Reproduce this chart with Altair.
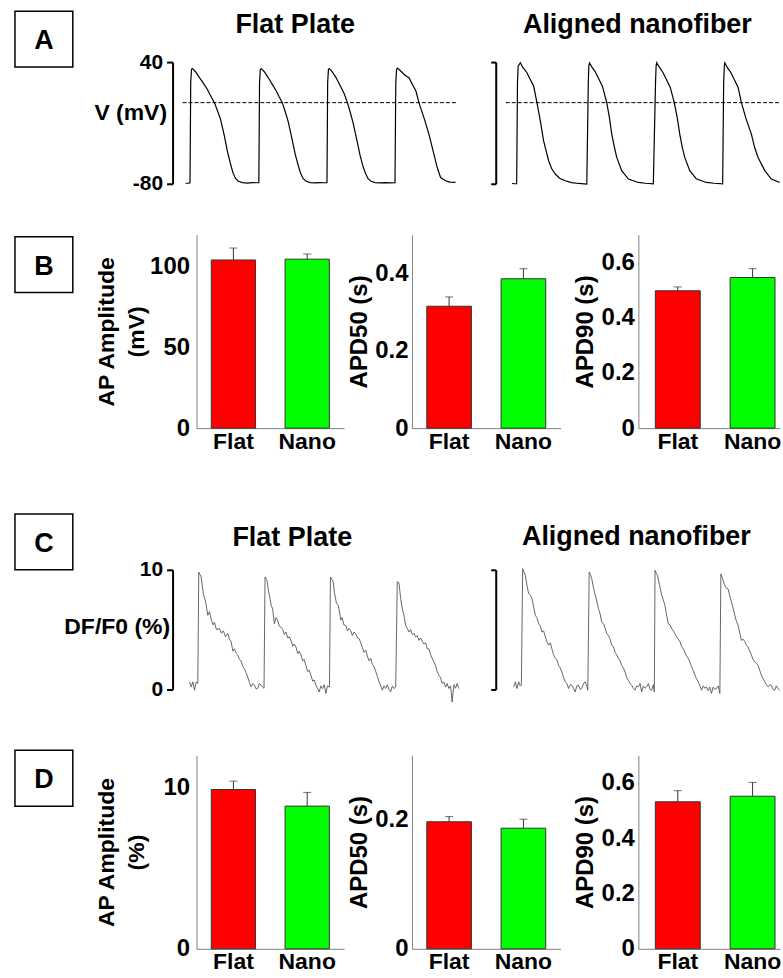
import altair as alt
import pandas as pd

FONT = "Liberation Sans"

# ---------------- data ----------------
GROUPS = ["Flat", "Nano"]
BAR_COLORS = ["#ff0000", "#00ff00"]

# Panel A: action potentials (time in ms, membrane potential in mV)
AP_FLAT = [
    (130, -79.5), (160, -79.5), (175, -79), (182, 20), (190, 33), (200, 33.5), (230, 30.5), (270, 24.6),
    (310, 19), (350, 13), (380, 7), (420, 0), (450, -8), (480, -16), (520, -33), (550, -48), (580, -60),
    (605, -69), (630, -74.5), (660, -77.5), (700, -78.8), (750, -79.3), (800, -78.8), (840, -79), (865, -79),
    (872, 20), (880, 33), (890, 33.5), (920, 30.5), (960, 24.5), (1000, 18), (1040, 11.5), (1070, 5.5),
    (1100, 0), (1130, -9), (1160, -19), (1200, -37), (1230, -51), (1260, -62), (1285, -70), (1310, -75),
    (1340, -77.5), (1380, -78.8), (1430, -79.2), (1480, -78.8), (1520, -79), (1548, -79),
    (1555, 20), (1563, 33), (1573, 33.5), (1600, 30.5), (1640, 24.5), (1680, 17), (1720, 9), (1753, 0),
    (1780, -9), (1810, -20), (1850, -38), (1880, -52), (1910, -63), (1935, -70), (1960, -75), (1990, -77.5),
    (2030, -78.8), (2080, -79.2), (2130, -78.8), (2180, -79.2), (2230, -79),
    (2238, 20), (2246, 33), (2256, 34), (2290, 31), (2330, 27), (2370, 24.6), (2410, 17), (2440, 11.5),
    (2470, 0), (2520, -14.8), (2570, -31), (2620, -50.8), (2653, -64), (2687, -73.8), (2737, -77),
    (2780, -78.3), (2837, -78.7),
]
AP_ALIGNED = [
    (163, -79.7), (190, -80), (210, -80),
    (218, 20), (225, 36), (247, 39.3), (270, 35), (313, 29.5), (340, 24), (380, 16.4), (413, 0), (447, -18),
    (480, -37.7), (530, -57.3), (560, -65), (597, -70.4), (640, -74.5), (697, -77), (760, -78.8),
    (830, -79.7), (913, -80.3),
    (928, 20), (933, 36), (940, 39.3), (965, 35), (1000, 30), (1030, 24), (1070, 16), (1113, 0),
    (1140, -15), (1163, -31), (1190, -44), (1213, -54), (1263, -67), (1330, -75.3), (1430, -78.7),
    (1500, -79.5), (1580, -80),
    (1602, 20), (1608, 36), (1613, 39.3), (1640, 35), (1675, 30), (1710, 23), (1750, 15), (1790, 0),
    (1820, -15), (1845, -31), (1870, -44), (1895, -54), (1945, -67), (2010, -75), (2110, -78.7),
    (2190, -79.5), (2275, -80),
    (2285, 20), (2292, 36), (2297, 39.3), (2320, 35), (2355, 30), (2390, 23), (2430, 15), (2463, 0),
    (2510, -16), (2563, -31), (2595, -44), (2630, -54), (2697, -67), (2763, -75.3), (2847, -78.7),
]
AP_ZERO_FLAT = (100, 2840)
AP_ZERO_ALIGNED = (100, 2850)

# Panel C: calcium transients (time in ms, DF/F0 in %)
CA_FLAT = [
    (170, 0.64), (187, 0.22), (203, 0.64), (220, -0.06), (237, 0.64), (253, 0.5), (263, 9.8), (287, 9.4),
    (310, 7.9), (330, 7.4), (353, 6.2), (370, 6.5), (387, 5.9), (405, 5.4), (420, 5.6), (440, 5.0),
    (470, 5.1), (490, 4.7), (510, 4.9), (530, 4.4), (553, 4.7), (570, 4.2), (587, 4.0), (605, 3.2),
    (620, 3.4), (640, 3.0), (653, 2.9), (670, 2.5), (687, 2.4), (705, 1.9), (720, 1.75), (737, 1.4),
    (753, 1.05), (770, 0.6), (787, 0.22), (805, 0.5), (820, 0.36), (837, 0.05), (853, 0.08), (870, 0.5),
    (887, 0.36), (903, 0.2), (917, 0.1),
    (927, 9.4), (947, 9.1), (960, 8.3), (977, 7.6), (990, 7.0), (1003, 6.75), (1020, 5.5), (1037, 6.0),
    (1053, 5.8), (1070, 5.3), (1087, 5.2), (1105, 5.0), (1120, 4.6), (1137, 4.8), (1155, 4.3), (1170, 4.4),
    (1187, 4.1), (1205, 3.6), (1220, 3.8), (1237, 3.55), (1255, 3.0), (1270, 3.2), (1287, 2.9),
    (1305, 2.4), (1320, 2.5), (1337, 2.0), (1355, 1.5), (1370, 1.6), (1387, 1.2), (1405, 0.7), (1420, 0.8),
    (1437, 0.36), (1453, 0.1), (1470, -0.2), (1487, 0.3), (1503, 0.08), (1520, 0.4), (1537, -0.33),
    (1553, 0.3), (1573, 0.2),
    (1583, 9.4), (1610, 9.0), (1625, 8.0), (1643, 7.2), (1663, 7.0), (1687, 5.8), (1700, 6.0), (1717, 5.4),
    (1737, 5.35), (1753, 4.9), (1770, 5.1), (1787, 4.9), (1803, 4.5), (1820, 4.8), (1837, 4.65),
    (1853, 4.3), (1870, 4.25), (1887, 3.9), (1903, 3.5), (1920, 3.1), (1937, 3.3), (1953, 2.8), (1970, 2.4),
    (1987, 2.6), (2003, 2.1), (2020, 1.9), (2037, 1.5), (2053, 1.1), (2070, 0.64), (2087, 0.3),
    (2103, -0.06), (2120, 0.3), (2137, 0.08), (2153, 0.4), (2170, 0.0), (2187, -0.2), (2203, 0.3),
    (2220, 0.08), (2237, 0.2),
    (2253, 9.0), (2270, 8.9), (2287, 7.6), (2303, 6.75), (2320, 6.2), (2337, 5.35), (2353, 5.1), (2370, 4.8),
    (2387, 5.0), (2403, 4.6), (2420, 4.7), (2437, 4.4), (2453, 4.5), (2470, 4.1), (2487, 4.3), (2503, 4.0),
    (2520, 3.8), (2537, 3.9), (2553, 3.4), (2570, 3.4), (2587, 2.9), (2603, 2.6), (2620, 2.3), (2637, 2.0),
    (2653, 1.5), (2670, 1.2), (2687, 1.0), (2703, 0.5), (2720, 0.64), (2737, 0.2), (2753, 0.5),
    (2770, 0.08), (2787, 0.3), (2803, -1.05), (2820, 0.4), (2837, 0.1), (2853, 0.5), (2870, 0.08),
]
CA_ALIGNED = [
    (180, 0.22), (197, 0.64), (213, 0.08), (230, 0.64), (245, 0.3), (257, 0.36),
    (270, 10.1), (283, 9.8), (297, 9.5), (313, 8.7), (330, 8.0), (347, 7.9), (363, 7.6), (380, 6.9),
    (397, 6.2), (413, 6.0), (430, 5.5), (447, 5.3), (463, 4.8), (480, 4.9), (497, 4.4), (513, 4.0),
    (530, 3.7), (547, 3.9), (563, 3.4), (580, 2.9), (597, 2.6), (613, 2.5), (630, 2.0), (647, 1.8),
    (663, 1.45), (680, 1.0), (697, 0.64), (713, 0.5), (730, 0.08), (747, 0.4), (763, 0.36), (780, 0.1),
    (797, -0.2), (813, 0.3), (830, 0.36), (847, 0.0), (863, 0.1), (880, 0.5), (897, 0.64), (913, 0.3),
    (923, -0.06),
    (937, 9.8), (950, 9.6), (963, 9.25), (980, 8.5), (997, 7.9), (1013, 7.4), (1030, 6.75), (1047, 6.3),
    (1063, 5.6), (1080, 5.5), (1097, 5.1), (1113, 4.7), (1130, 4.5), (1147, 4.2), (1163, 3.7), (1180, 3.6),
    (1197, 3.1), (1213, 2.9), (1230, 2.6), (1247, 2.4), (1263, 2.0), (1280, 1.8), (1297, 1.45), (1313, 1.0),
    (1330, 0.75), (1347, 0.5), (1363, 0.36), (1380, 0.1), (1397, -0.06), (1413, 0.3), (1430, 0.22),
    (1447, 0.5), (1463, -0.2), (1480, 0.3), (1497, 0.1), (1513, 0.22), (1530, 0.5), (1547, 0.0),
    (1563, -0.06), (1580, 0.4), (1590, -0.2),
    (1597, 9.95), (1610, 9.7), (1623, 9.5), (1640, 8.8), (1663, 7.9), (1680, 7.5), (1697, 7.0), (1713, 6.2),
    (1730, 5.5), (1747, 5.4), (1763, 5.1), (1780, 4.9), (1797, 4.65), (1813, 4.4), (1830, 4.2), (1847, 4.0),
    (1863, 3.6), (1880, 3.4), (1897, 3.1), (1913, 2.8), (1930, 2.6), (1947, 2.3), (1963, 1.9), (1980, 1.6),
    (1997, 1.2), (2013, 0.9), (2030, 0.64), (2047, 0.3), (2063, -0.06), (2080, 0.3), (2097, 0.1),
    (2113, 0.22), (2130, -0.1), (2147, 0.2), (2163, -0.33), (2180, 0.2), (2197, 0.0), (2213, 0.08),
    (2230, 0.3), (2247, -0.33),
    (2257, 9.65), (2273, 9.3), (2290, 8.8), (2310, 8.5), (2330, 8.4), (2347, 7.8), (2363, 7.3), (2380, 6.8),
    (2397, 6.2), (2413, 5.7), (2430, 5.35), (2447, 4.7), (2463, 4.1), (2480, 4.2), (2497, 4.0), (2513, 3.7),
    (2530, 3.55), (2547, 3.2), (2563, 2.9), (2580, 2.5), (2597, 2.3), (2613, 2.2), (2630, 2.0), (2647, 1.6),
    (2663, 1.2), (2680, 0.9), (2697, 0.64), (2713, 0.4), (2730, 0.22), (2747, 0.4), (2763, 0.36),
    (2780, 0.0), (2797, -0.06), (2813, 0.3), (2830, 0.08), (2847, -0.06),
]

# Panel B: AP parameters (mean, SEM)
B_AMP_MEAN, B_AMP_SEM = [104.3, 104.8], [7.4, 3.2]
B_APD50_MEAN, B_APD50_SEM = [0.315, 0.386], [0.024, 0.026]
B_APD90_MEAN, B_APD90_SEM = [0.497, 0.545], [0.014, 0.032]
# Panel D: calcium transient parameters (mean, SEM)
D_AMP_MEAN, D_AMP_SEM = [9.88, 8.85], [0.52, 0.85]
D_APD50_MEAN, D_APD50_SEM = [0.197, 0.187], [0.008, 0.014]
D_APD90_MEAN, D_APD90_SEM = [0.532, 0.552], [0.040, 0.050]

ONE = pd.DataFrame({"k": [0]})


# ---------------- helpers ----------------
def spacer(w, h, letter=None, box_y=0):
    base = alt.Chart(ONE).mark_rect(opacity=0).encode(
        x=alt.value(0), x2=alt.value(1), y=alt.value(0), y2=alt.value(h))
    if letter is None:
        return base.properties(width=w, height=h)
    box = alt.Chart(ONE).mark_rect(fill="white", fillOpacity=0, stroke="black", strokeWidth=1.5).encode(
        x=alt.value(0), x2=alt.value(58), y=alt.value(box_y), y2=alt.value(box_y + 56))
    txt = alt.Chart(ONE).mark_text(text=letter, font=FONT, fontSize=27, fontWeight="bold",
                                   align="center", baseline="alphabetic", color="black").encode(
        x=alt.value(29), y=alt.value(box_y + 38))
    return alt.layer(base, box, txt).properties(width=w, height=h)


def trace_panel(points, width, height, y_domain, y_ticks, labels, head, head_x, head_y,
                y_title="", y_title_xy=(0, 0), color="black", sw=1.2, zero=None):
    df = pd.DataFrame(points, columns=["t", "v"])
    xs = alt.Scale(domain=[0, width * 10], nice=False, zero=False)
    ys = alt.Scale(domain=y_domain, nice=False, zero=False)
    ax = dict(values=y_ticks, tickSize=6 if labels else 5, tickWidth=2, tickColor="black",
              domainColor="black", domainWidth=2, labels=labels, grid=False, title=y_title)
    if labels:
        ax.update(labelFontSize=21, labelFont=FONT, labelFontWeight="bold", labelColor="black",
                  labelPadding=4, labelExpr="replace(datum.label, '\u2212', '-')")
    if y_title:
        ax.update(titleAngle=0, titleAlign="right", titleBaseline="middle", titleX=y_title_xy[0],
                  titleY=y_title_xy[1], titleFontSize=23, titleFont=FONT, titleFontWeight="bold",
                  titleColor="black")
    yaxis = alt.Axis(**ax)
    line = alt.Chart(df).mark_line(color=color, strokeWidth=sw).encode(
        x=alt.X("t:Q", scale=xs, axis=None),
        y=alt.Y("v:Q", scale=ys, axis=yaxis))
    layers = [line]
    if zero is not None:
        zdf = pd.DataFrame({"t": [zero[0]], "t2": [zero[1]], "v": [0]})
        layers.append(alt.Chart(zdf).mark_rule(color="black", strokeDash=[4, 2], strokeWidth=1).encode(
            x=alt.X("t:Q", scale=xs, axis=None), x2="t2:Q",
            y=alt.Y("v:Q", scale=ys, axis=yaxis)))
    layers.append(alt.Chart(ONE).mark_text(text=head, font=FONT, fontSize=27, fontWeight="bold",
                                           align="center", baseline="alphabetic", color="black").encode(
        x=alt.value(head_x), y=alt.value(head_y)))
    return alt.layer(*layers).properties(width=width, height=height)


def bar_panel(means, sems, width, y_domain, y_ticks, title, title_x, title_size, label_pad,
              pad_outer=0.2, align=0.5):
    df = pd.DataFrame({"g": GROUPS, "m": means, "hi": [m + s for m, s in zip(means, sems)]})
    xenc = alt.X("g:N", sort=GROUPS,
                 scale=alt.Scale(paddingInner=0.4, paddingOuter=pad_outer, align=align),
                 axis=alt.Axis(title="", labelAngle=0, ticks=False, domainColor="#808080",
                               domainWidth=1, labelFontSize=23, labelFont=FONT,
                               labelFontWeight="bold", labelColor="black", labelPadding=2))
    ys = alt.Scale(domain=y_domain, nice=False, zero=True)
    yaxis = alt.Axis(values=y_ticks, format="~f", ticks=False, domainColor="#808080", domainWidth=1,
                     grid=False, labelFontSize=24, labelFont=FONT, labelFontWeight="bold",
                     labelColor="black", labelPadding=label_pad, title=title, titleAngle=270,
                     titleAlign="center", titleBaseline="alphabetic", titleX=title_x, titleY=97,
                     titleFontSize=title_size, titleLineHeight=30, titleFont=FONT,
                     titleFontWeight="bold", titleColor="black")
    base = alt.Chart(df)
    bars = base.mark_bar(stroke="#333333", strokeWidth=1).encode(
        x=xenc, y=alt.Y("m:Q", scale=ys, axis=yaxis),
        color=alt.Color("g:N", scale=alt.Scale(domain=GROUPS, range=BAR_COLORS), legend=None))
    err = base.mark_rule(color="#333333", strokeWidth=1).encode(
        x=xenc, y=alt.Y("m:Q", scale=ys, axis=yaxis), y2="hi:Q")
    cap = base.mark_tick(color="#333333", thickness=1, size=8).encode(
        x=xenc, y=alt.Y("hi:Q", scale=ys, axis=yaxis))
    return alt.layer(bars, err, cap).properties(width=width, height=194)


def row(*items):
    return alt.hconcat(*items, spacing=0, bounds="flush")


# ---------------- rows ----------------
row_a = row(
    spacer(158, 173, "A", -51),
    trace_panel(AP_FLAT, 324, 122, [-80, 40], [-80, 40], True, "Flat Plate", 123, -29,
                y_title="V (mV)", y_title_xy=(-6, 51), zero=AP_ZERO_FLAT),
    trace_panel(AP_ALIGNED, 285, 122, [-80, 40], [-80, 40], False, "Aligned nanofiber", 142, -29,
                zero=AP_ZERO_ALIGNED),
)
row_b = row(
    spacer(182, 279, "B", 2),
    bar_panel(B_AMP_MEAN, B_AMP_SEM, 148, [0, 120], [0, 50, 100], ["AP  Amplitude", "(mV)"], -83, 23, 7),
    spacer(68, 1),
    bar_panel(B_APD50_MEAN, B_APD50_SEM, 149, [0, 0.5], [0, 0.2, 0.4], "APD50 (s)", -46, 24, 4),
    spacer(78, 1),
    bar_panel(B_APD90_MEAN, B_APD90_SEM, 142, [0, 0.7], [0, 0.2, 0.4, 0.6], "APD90 (s)", -46, 24, 4,
              pad_outer=0.1467, align=0.773),
)
row_c = row(
    spacer(158, 180, "C", -56),
    trace_panel(CA_FLAT, 324, 120, [0, 10], [0, 10], True, "Flat Plate", 120, -24,
                y_title="DF/F0 (%)", y_title_xy=(-3, 57), color="#555555", sw=0.9),
    trace_panel(CA_ALIGNED, 285, 120, [0, 10], [0, 10], False, "Aligned nanofiber", 141, -25,
                color="#555555", sw=0.9),
)
row_d = row(
    spacer(182, 194, "D", -5),
    bar_panel(D_AMP_MEAN, D_AMP_SEM, 148, [0, 12], [0, 10], ["AP  Amplitude", "(%)"], -83, 23, 7),
    spacer(68, 1),
    bar_panel(D_APD50_MEAN, D_APD50_SEM, 149, [0, 0.3], [0, 0.2], "APD50 (s)", -46, 24, 4),
    spacer(78, 1),
    bar_panel(D_APD90_MEAN, D_APD90_SEM, 142, [0, 0.7], [0, 0.2, 0.4, 0.6], "APD90 (s)", -46, 24, 4,
              pad_outer=0.1467, align=0.773),
)

chart = alt.vconcat(row_a, row_b, row_c, row_d, spacing=0).properties(
    padding={"left": 14, "top": 9, "right": 0, "bottom": 0}
).configure(font=FONT).configure_view(strokeWidth=0)

chart.save("out.html", embed_options={"renderer": "svg", "actions": False})
